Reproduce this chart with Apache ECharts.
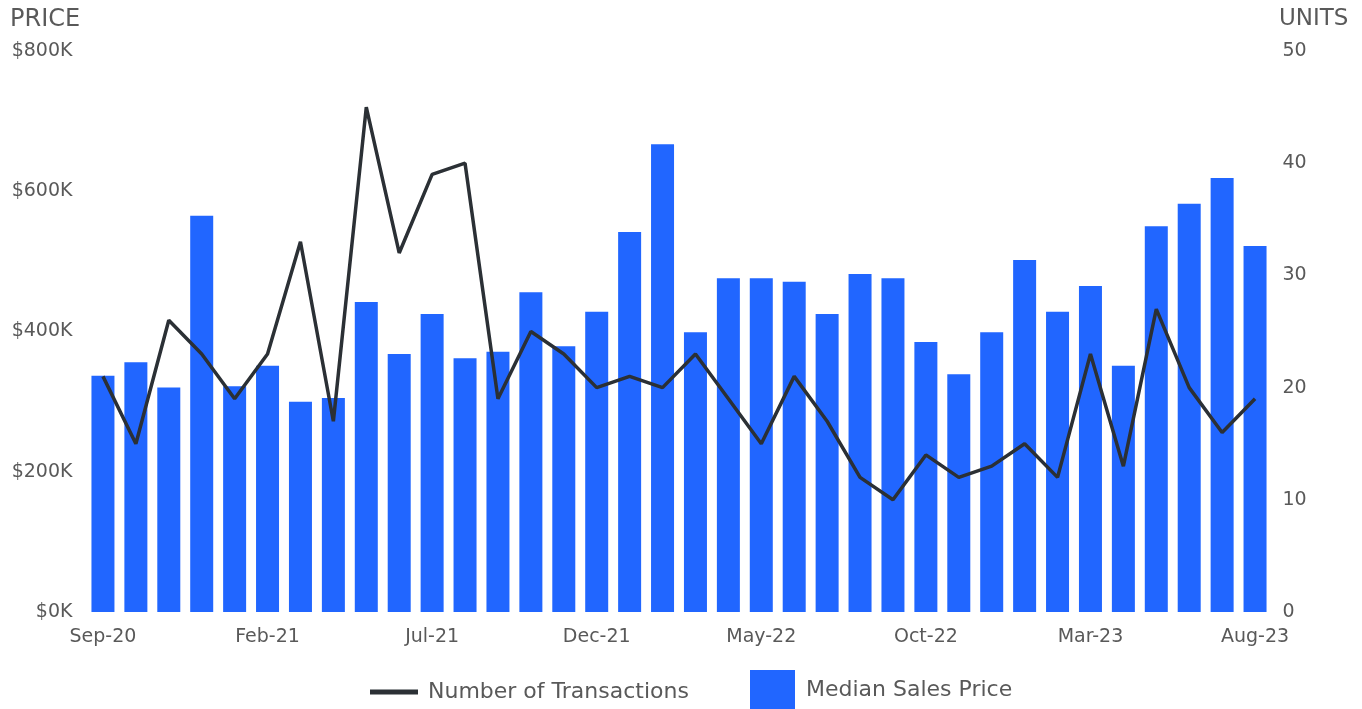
<!DOCTYPE html>
<html>
<head>
<meta charset="utf-8">
<script src="https://cdn.jsdelivr.net/npm/echarts@6/dist/echarts.min.js"></script>
<style>
html,body{margin:0;padding:0;background:#fff;}
#chart{width:1362px;height:709px;}
</style>
</head>
<body>
<div id="chart"></div>
<script>
const months = ['Sep-20','Oct-20','Nov-20','Dec-20','Jan-21','Feb-21','Mar-21','Apr-21','May-21','Jun-21','Jul-21','Aug-21',
  'Sep-21','Oct-21','Nov-21','Dec-21','Jan-22','Feb-22','Mar-22','Apr-22','May-22','Jun-22','Jul-22','Aug-22',
  'Sep-22','Oct-22','Nov-22','Dec-22','Jan-23','Feb-23','Mar-23','Apr-23','May-23','Jun-23','Jul-23','Aug-23'];
const medianPrice = [337000,356000,320000,565000,322000,351000,300000,305000,442000,368000,425000,362000,
  371000,456000,379000,428000,542000,667000,399000,476000,476000,471000,425000,482000,
  476000,385000,339000,399000,502000,428000,465000,351000,550000,582000,619000,522000];
const transactions = [21,15,26,23,19,23,33,17,45,32,39,40,
  19,25,23,20,21,20,23,19,15,21,17,12,
  10,14,12,13,15,12,23,13,27,20,16,19];
const priceTicks = [0,200000,400000,600000,800000];
const unitTicks = [0,10,20,30,40,50];

const FONT = 'DejaVu Sans';
const TXT = '#595959';
const chart = echarts.init(document.getElementById('chart'));
chart.setOption({
  animation:false,
  backgroundColor:'#ffffff',
  textStyle:{fontFamily:FONT},
  grid:{left:86.5,right:90.5,top:51,bottom:97},
  graphic:[
    {type:'text',left:10,top:8,style:{text:'PRICE',font:'24px "DejaVu Sans"',fill:TXT}},
    {type:'text',left:1279,top:8,style:{text:'UNITS',font:'23px "DejaVu Sans"',fill:TXT}}
  ],
  legend:[
    {data:['Number of Transactions'],left:370,top:681,padding:0,icon:'rect',itemWidth:48,itemHeight:5,itemGap:10,
     textStyle:{fontFamily:FONT,fontSize:22,color:TXT,padding:[0,0,0,5]}},
    {data:['Median Sales Price'],left:750,top:670,padding:0,icon:'rect',itemWidth:45,itemHeight:40,itemGap:10,
     textStyle:{fontFamily:FONT,fontSize:22,color:TXT,padding:[0,0,0,6]}}
  ],
  xAxis:{type:'category',data:months,boundaryGap:true,
    axisLine:{show:false},axisTick:{show:false},splitLine:{show:false},
    axisLabel:{interval:4,margin:16,fontFamily:FONT,fontSize:19,color:TXT}},
  yAxis:[
    {type:'value',min:priceTicks[0],max:priceTicks[priceTicks.length-1],interval:priceTicks[1]-priceTicks[0],
     axisLine:{show:false},axisTick:{show:false},splitLine:{show:false},
     axisLabel:{margin:14,fontFamily:FONT,fontSize:19,color:TXT,formatter:v=>'$'+(v/1000)+'K'}},
    {type:'value',min:unitTicks[0],max:unitTicks[unitTicks.length-1],interval:unitTicks[1]-unitTicks[0],
     axisLine:{show:false},axisTick:{show:false},splitLine:{show:false},
     axisLabel:{margin:11,fontFamily:FONT,fontSize:19,color:TXT}}
  ],
  series:[
    {name:'Median Sales Price',type:'bar',yAxisIndex:0,data:medianPrice,barWidth:23,
     itemStyle:{color:'#2166ff'}},
    {name:'Number of Transactions',type:'line',yAxisIndex:1,data:transactions,symbol:'none',
     color:'#2b3035',lineStyle:{width:3.5,color:'#2b3035'},z:5}
  ]
});
</script>
</body>
</html>
